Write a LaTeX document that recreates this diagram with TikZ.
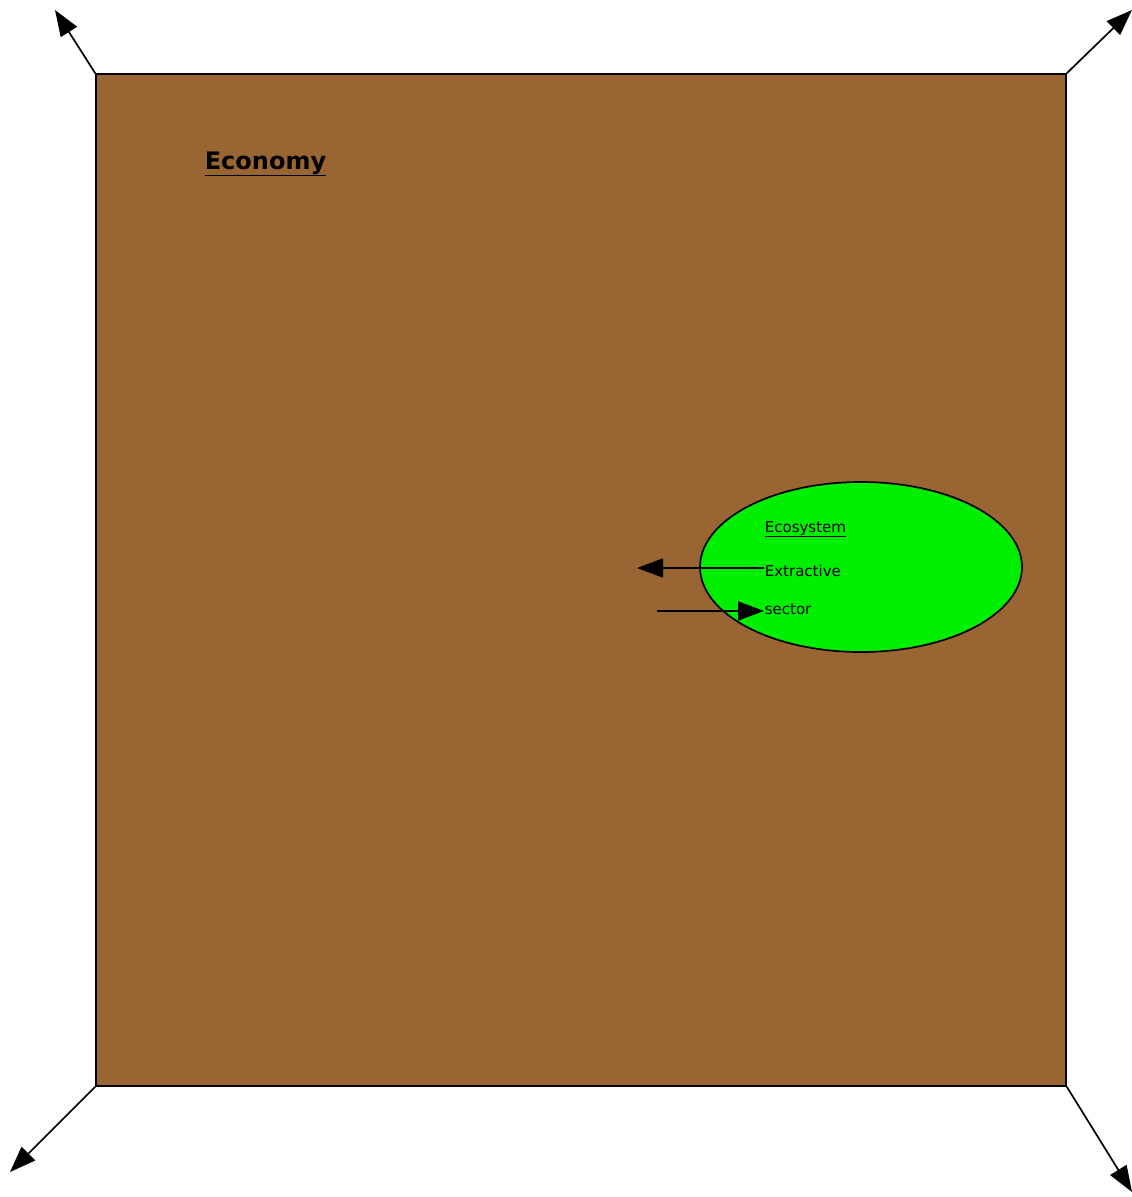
\documentclass[tikz,border=0pt]{standalone}
\usepackage{fontspec}
\setmainfont{DejaVu Sans}
\usepackage{tikz}
\usetikzlibrary{shapes.geometric, arrows.meta, positioning}
\usepackage{xcolor}

\definecolor{soil}{RGB}{153,102,51}
\definecolor{leaf}{RGB}{0,238,0}

\tikzset{
    bigtip/.style={-{Triangle[length=26pt, width=19pt]}},
    label text/.style={inner sep=0pt, anchor=base west, font=\fontsize{15}{15}\selectfont},
}

\begin{document}
\begin{tikzpicture}[x=1pt, y=-1pt, line width=1.7pt]
    \useasboundingbox (0,0) rectangle (1132,1197);

    % economy box
    \node[draw, fill=soil, minimum width=970pt, minimum height=1012pt, inner sep=0pt] (economy) at (581,580) {};
    \node[inner sep=0pt, anchor=base west, font=\fontsize{24}{24}\selectfont\bfseries] (econlabel) at (204,169) {\underline{Economy}};

    % outward arrows
    \coordinate (nw) at (55,10);
    \coordinate (ne) at (1132,10);
    \coordinate (sw) at (10,1172);
    \coordinate (se) at (1132,1192);
    \draw[bigtip] (economy.north west) -- (nw);
    \draw[bigtip] (economy.north east) -- (ne);
    \draw[bigtip] (economy.south west) -- (sw);
    \draw[bigtip] (economy.south east) -- (se);

    % ecosystem
    \node[ellipse, draw, fill=leaf, minimum width=322pt, minimum height=170pt, inner sep=0pt] (ecosystem) at (861,567) {};
    \node[label text] (ecolabel) at (764,532) {\underline{Ecosystem}};
    \node[label text] (extractive) at (764,576) {Extractive};
    \node[label text] (sector) at (764,614) {sector};

    \coordinate (outflow) at (637,568);
    \coordinate (inflow) at (657,611);
    \draw[bigtip] (extractive.west |- outflow) -- (outflow);
    \draw[bigtip] (inflow) -- (sector.west |- inflow);
\end{tikzpicture}
\end{document}
